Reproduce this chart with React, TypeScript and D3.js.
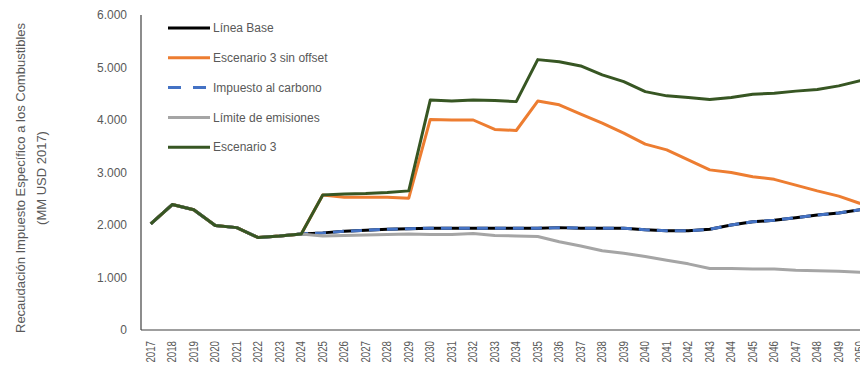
import React from "react";
import * as d3 from "d3";

const years: string[] = d3.range(2017, 2051).map(String);

const lineaBase: number[] = [
  2020, 2390, 2290, 1990, 1950, 1760, 1790, 1830,
  1850, 1880, 1900, 1920, 1930, 1940, 1940, 1940, 1940, 1940, 1940,
  1950, 1940, 1940, 1940, 1910, 1890, 1890, 1920, 2000, 2060, 2090,
  2140, 2190, 2230, 2290,
];

const sinOffset: number[] = [
  2020, 2390, 2290, 1990, 1950, 1760, 1790, 1830,
  2570, 2530, 2530, 2530, 2510, 4010, 4000, 4000, 3820, 3800,
  4360, 4290, 4110, 3940, 3750, 3540, 3430, 3240, 3050, 3000, 2920,
  2870, 2760, 2650, 2550, 2410,
];

const impuestoCarbono: number[] = [
  2020, 2390, 2290, 1990, 1950, 1760, 1790, 1830,
  1850, 1880, 1900, 1920, 1930, 1940, 1940, 1940, 1940, 1940, 1940,
  1950, 1940, 1940, 1940, 1910, 1890, 1890, 1920, 2000, 2060, 2090,
  2140, 2190, 2230, 2290,
];

const limiteEmisiones: number[] = [
  2020, 2390, 2290, 1990, 1950, 1760, 1790, 1830,
  1790, 1800, 1810, 1820, 1830, 1820, 1820, 1840, 1800, 1790,
  1780, 1680, 1600, 1510, 1460, 1400, 1330, 1260, 1170, 1170, 1160,
  1160, 1140, 1130, 1120, 1100,
];

const escenario3: number[] = [
  2020, 2390, 2290, 1990, 1950, 1760, 1790, 1830,
  2570, 2590, 2600, 2620, 2650, 4380, 4360, 4380, 4370, 4350,
  5150, 5110, 5030, 4860, 4730, 4540, 4460, 4430, 4390, 4430, 4490,
  4510, 4550, 4580, 4650, 4750,
];

const yTicks: number[] = [0, 1000, 2000, 3000, 4000, 5000, 6000];

type Series = { name: string; values: number[]; color: string; dash?: string };

const series: Series[] = [
  { name: "Línea Base", values: lineaBase, color: "#000000" },
  { name: "Escenario 3 sin offset", values: sinOffset, color: "#ED7D31" },
  { name: "Impuesto al carbono", values: impuestoCarbono, color: "#4472C4", dash: "11,7" },
  { name: "Límite de emisiones", values: limiteEmisiones, color: "#A5A5A5" },
  { name: "Escenario 3", values: escenario3, color: "#375623" },
];

const W = 860;
const H = 369;
const FONT = "'Liberation Sans', Arial, sans-serif";
const TEXT = "#595959";

export default function App() {
  const left = 141;
  const top = 15;
  const bottom = 330;
  const step = 21.5;
  const x = d3.scaleBand<string>().domain(years).range([140, 140 + years.length * step]);
  const y = d3.scaleLinear().domain([0, 6000]).range([bottom, top]);
  const cx = (yr: string) => (x(yr) ?? 0) + x.bandwidth() / 2;
  const line = d3
    .line<number>()
    .x((_, i) => cx(years[i]))
    .y((d) => y(d));

  const fmt = (v: number) => (v === 0 ? "0" : d3.format(",")(v).replace(",", "."));

  return (
    <svg
      width={W}
      height={H}
      style={{ position: "absolute", left: 0, top: 0, display: "block" }}
      fontFamily={FONT}
    >
      <rect width={W} height={H} fill="#ffffff" />
      {series.map((s) => (
        <path
          key={s.name}
          d={line(s.values) ?? ""}
          fill="none"
          stroke={s.color}
          strokeWidth={3}
          strokeDasharray={s.dash}
          strokeLinejoin="round"
        />
      ))}
      <line x1={left} x2={W} y1={bottom} y2={bottom} stroke="#404040" strokeWidth={1.2} />
      <line x1={left} x2={left} y1={top} y2={bottom} stroke="#404040" strokeWidth={1.2} />
      {yTicks.map((t) => (
        <text key={t} x={127} y={y(t)} dy="0.35em" textAnchor="end" fontSize={12} fill={TEXT}>
          {fmt(t)}
        </text>
      ))}
      {years.map((yr) => (
        <text
          key={yr}
          transform={`translate(${cx(yr)},341) rotate(-90) scale(0.81,1)`}
          textAnchor="end"
          dy="0.35em"
          fontSize={12}
          fill={TEXT}
        >
          {yr}
        </text>
      ))}
      <text transform="translate(20,178) rotate(-90)" textAnchor="middle" dy="0.35em" fontSize={13} fill={TEXT}>
        Recaudación Impuesto Específico a los Combustibles
      </text>
      <text transform="translate(41,178) rotate(-90)" textAnchor="middle" dy="0.35em" fontSize={13} fill={TEXT}>
        (MM USD 2017)
      </text>
      {series.map((s, i) => {
        const ly = 28 + i * 29.8;
        return (
          <g key={s.name}>
            <line
              x1={168}
              x2={210}
              y1={ly}
              y2={ly}
              stroke={s.color}
              strokeWidth={3}
              strokeDasharray={s.dash ? "13,12" : undefined}
            />
            <text x={213} y={ly} dy="0.35em" fontSize={12} fill={TEXT}>
              {s.name}
            </text>
          </g>
        );
      })}
    </svg>
  );
}
